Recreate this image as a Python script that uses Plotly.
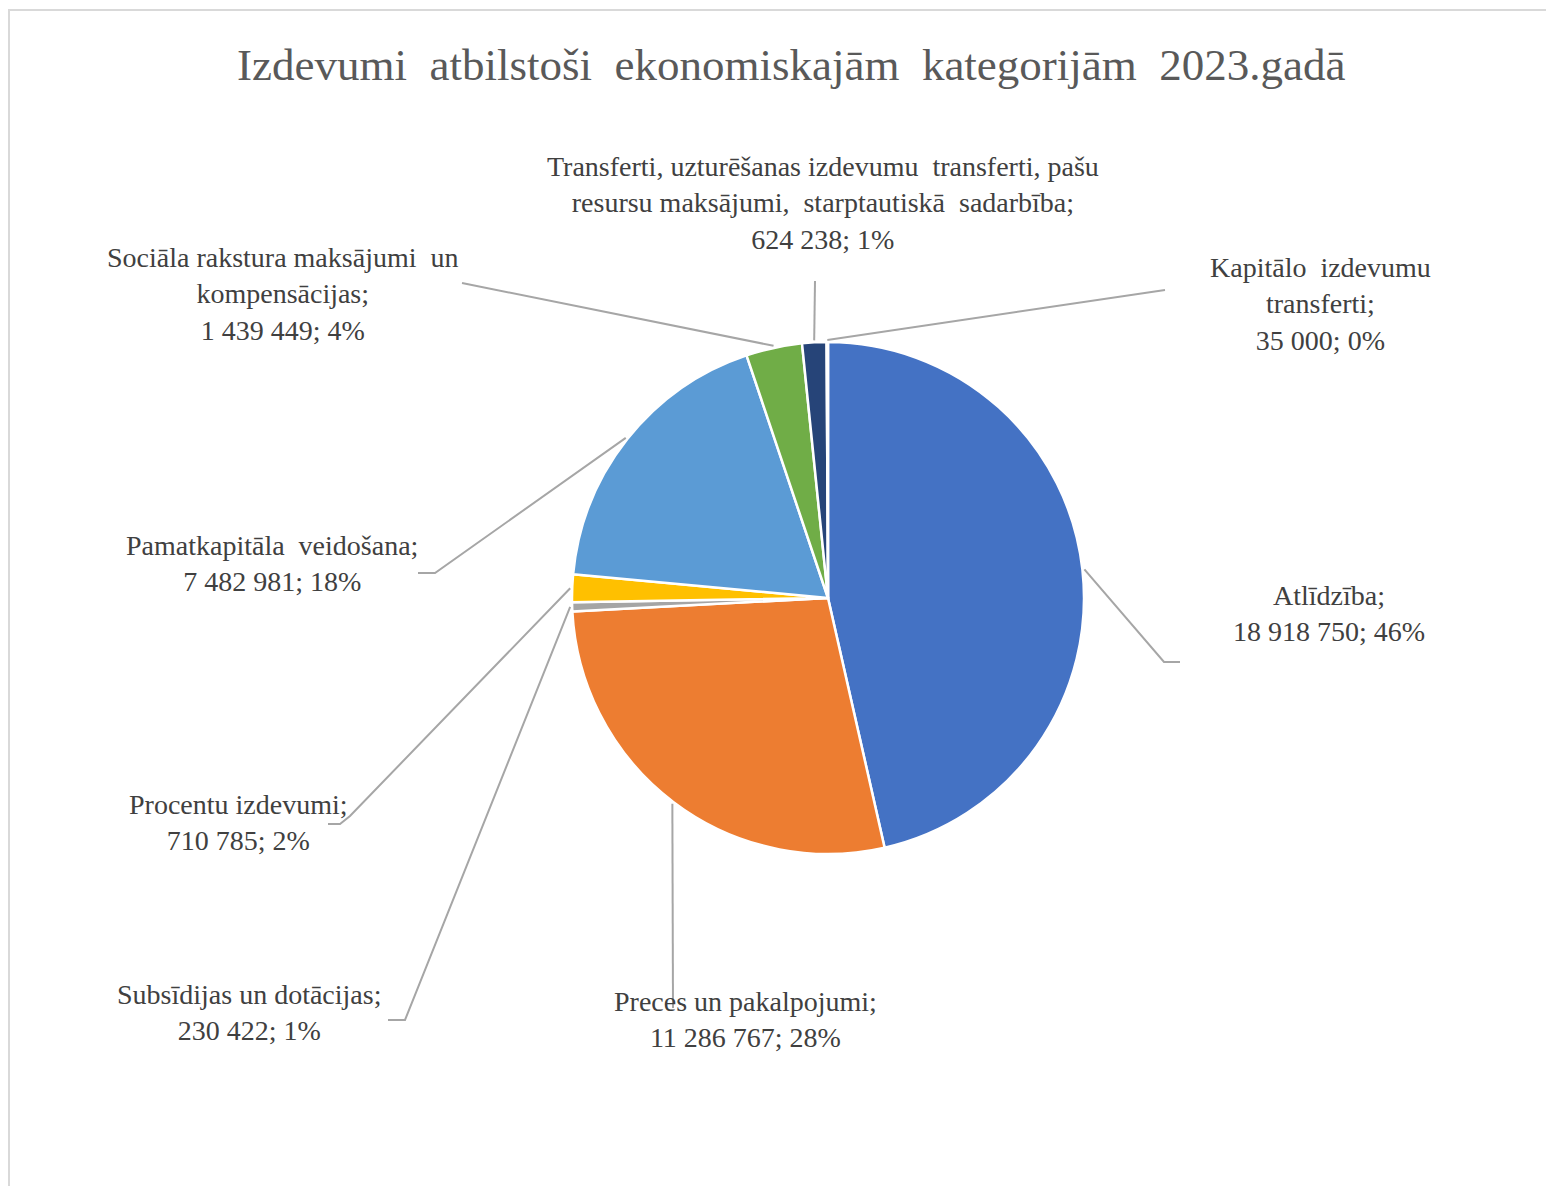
import plotly.graph_objects as go
import math

W, H = 1554, 1186
OFF = 8  # default page margin of the html body

categories = [
    "Atlīdzība",
    "Preces un pakalpojumi",
    "Subsīdijas un dotācijas",
    "Procentu izdevumi",
    "Pamatkapitāla veidošana",
    "Sociāla rakstura maksājumi un kompensācijas",
    "Transferti, uzturēšanas izdevumu transferti, pašu resursu maksājumi, starptautiskā sadarbība",
    "Kapitālo izdevumu transferti",
]
values = [18918750, 11286767, 230422, 710785, 7482981, 1439449, 624238, 35000]
percent_labels = [46, 28, 1, 2, 18, 4, 1, 0]
colors = ["#4472C4", "#ED7D31", "#A5A5A5", "#FFC000", "#5B9BD5", "#70AD47", "#264478", "#9E480E"]

# label text split into display lines
label_lines = [
    ["Atlīdzība;"],
    ["Preces un pakalpojumi;"],
    ["Subsīdijas un dotācijas;"],
    ["Procentu izdevumi;"],
    ["Pamatkapitāla  veidošana;"],
    ["Sociāla rakstura maksājumi  un", "kompensācijas;"],
    ["Transferti, uzturēšanas izdevumu  transferti, pašu", "resursu maksājumi,  starptautiskā  sadarbība;"],
    ["Kapitālo  izdevumu", "transferti;"],
]

# layout: label centres (px) and leader-line bend/end points (px, screen coords)
label_pos = [(1329, 613), (745, 1019), (249, 1012), (238, 822), (272, 563), (282, 294), (823, 203), (1320, 304)]
leader_pts = [
    [(1164, 662), (1180, 662)],
    [(673, 1008)],
    [(405, 1020), (388, 1020)],
    [(350, 816), (340, 824), (328, 824)],
    [(435, 573), (418, 573)],
    [(462, 283)],
    [(815, 281)],
    [(1165, 290)],
]

cx, cy, R = 828, 598, 256

FW, FH = W - OFF, H - OFF


def fx(x):
    return (x - OFF) / FW


def fy(y):
    return 1 - (y - OFF) / FH


def fmt(v):
    return f"{v:,}".replace(",", " ")


total = sum(values)

fig = go.Figure(go.Pie(
    labels=categories,
    values=values,
    sort=False,
    direction="clockwise",
    rotation=0,
    marker=dict(colors=colors, line=dict(color="white", width=2.5)),
    textinfo="none",
    hoverinfo="label+value+percent",
    showlegend=False,
    domain=dict(x=[fx(cx - R), fx(cx + R)], y=[fy(cy + R), fy(cy - R)]),
))

shapes = []
annotations = []
cum = 0.0
for i, v in enumerate(values):
    frac = v / total
    mid = (cum + frac / 2) * 2 * math.pi
    cum += frac
    sx = cx + (R + 2) * math.sin(mid)
    sy = cy - (R + 2) * math.cos(mid)
    pts = [(sx, sy)] + leader_pts[i]
    path = "M " + " L ".join(f"{fx(x):.5f},{fy(y):.5f}" for x, y in pts)
    shapes.append(dict(type="path", xref="paper", yref="paper", path=path,
                       line=dict(color="#A6A6A6", width=2)))
    lines = [l.replace("  ", "&nbsp; ") for l in label_lines[i]] + [f"{fmt(v)}; {percent_labels[i]}%"]
    lx, ly = label_pos[i]
    annotations.append(dict(
        text="<br>".join(lines), x=fx(lx), y=fy(ly), xref="paper", yref="paper",
        xanchor="center", yanchor="middle", align="center", showarrow=False,
        font=dict(family="Liberation Serif", size=28, color="#404040"),
    ))

# chart-area border (top and left edges visible)
shapes.append(dict(type="path", xref="paper", yref="paper",
                   path=f"M {fx(9)},{fy(H + 20)} L {fx(9)},{fy(10)} L {fx(W + 20)},{fy(10)}",
                   line=dict(color="#D9D9D9", width=2)))

annotations.append(dict(
    text="Izdevumi&nbsp; atbilstoši&nbsp; ekonomiskajām&nbsp; kategorijām&nbsp; 2023.gadā",
    x=fx(791), y=fy(65), xref="paper", yref="paper", xanchor="center", yanchor="middle",
    showarrow=False, font=dict(family="Liberation Serif", size=45, color="#595959"),
))

fig.update_layout(
    width=FW, height=FH,
    margin=dict(l=0, r=0, t=0, b=0),
    paper_bgcolor="white", plot_bgcolor="white",
    shapes=shapes, annotations=annotations,
)

fig.write_html("out.html")
